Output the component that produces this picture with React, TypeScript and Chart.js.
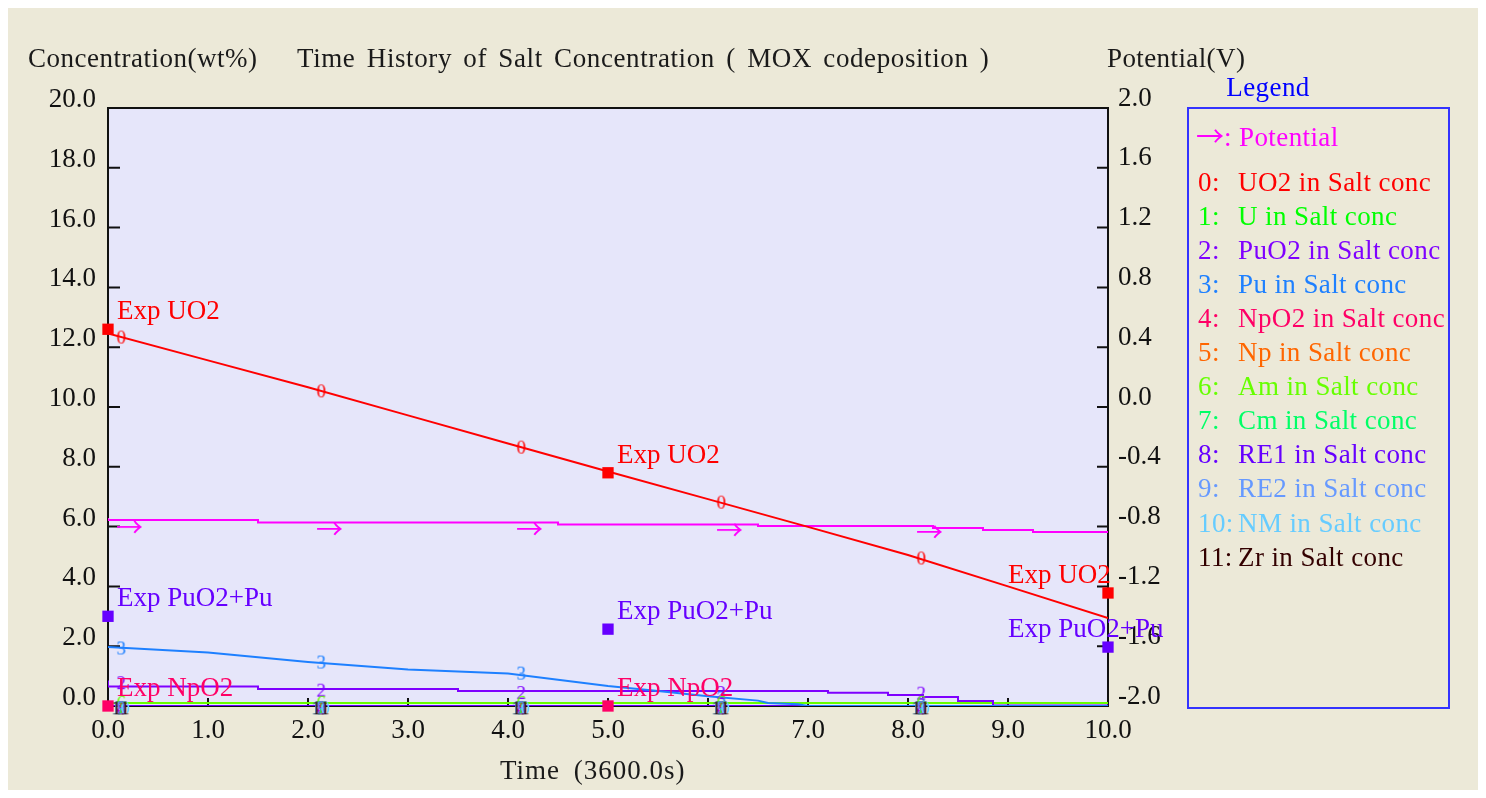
import React, { useEffect, useRef } from 'react';
import { Chart, registerables } from 'chart.js';

Chart.register(...registerables);

const FONT_FAMILY = '"Liberation Serif", "Times New Roman", serif';
const ARROW_FONT = '"Noto Sans CJK SC", "DejaVu Sans", sans-serif';
const TEXT_SIZE = 27;
const CANVAS_W = 1470;
const CANVAS_H = 782;
const PAGE_BG = '#ECE9D8';
const PLOT_BG = '#E6E6FA';
const AXIS_COLOR = '#111111';

// ---- axis ticks ----
const timeTicks = [0, 1, 2, 3, 4, 5, 6, 7, 8, 9, 10];
const timeTickLabels = ['0.0', '1.0', '2.0', '3.0', '4.0', '5.0', '6.0', '7.0', '8.0', '9.0', '10.0'];
const concTicks = [0, 2, 4, 6, 8, 10, 12, 14, 16, 18, 20];
const concTickLabels = ['0.0', '2.0', '4.0', '6.0', '8.0', '10.0', '12.0', '14.0', '16.0', '18.0', '20.0'];
const potTicks = [-2.0, -1.6, -1.2, -0.8, -0.4, 0.0, 0.4, 0.8, 1.2, 1.6, 2.0];
const potTickLabels = ['-2.0', '-1.6', '-1.2', '-0.8', '-0.4', '0.0', '0.4', '0.8', '1.2', '1.6', '2.0'];

// ---- texts ----
const chartTitle = 'Time History of Salt Concentration ( MOX codeposition )';
const leftAxisTitle = 'Concentration(wt%)';
const rightAxisTitle = 'Potential(V)';
const xAxisTitle = 'Time (3600.0s)';
const legendTitle = 'Legend';
const potentialArrow = '\u2192';
const potentialLegend = ': Potential';

// ---- legend series ----
const seriesNumbers = ['0:', '1:', '2:', '3:', '4:', '5:', '6:', '7:', '8:', '9:', '10:', '11:'];
const seriesNames = [
  'UO2 in Salt conc', 'U in Salt conc', 'PuO2 in Salt conc', 'Pu in Salt conc',
  'NpO2 in Salt conc', 'Np in Salt conc', 'Am in Salt conc', 'Cm in Salt conc',
  'RE1 in Salt conc', 'RE2 in Salt conc', 'NM in Salt conc', 'Zr in Salt conc',
];
const seriesColors = [
  '#FF0000', '#00FF00', '#7F00FF', '#1E80FF', '#FF0066', '#FF6600',
  '#66FF00', '#00FF66', '#6600FF', '#6699FF', '#66CCFF', '#330000',
];
const potentialColor = '#FF00FF';

// ---- simulated series ----
const uo2Time = [0, 1, 2, 3, 4, 5, 6, 7, 8, 9, 10];
const uo2Conc = [12.46, 11.56, 10.66, 9.72, 8.78, 7.84, 6.92, 5.99, 5.05, 4.0, 2.94];

const puTime = [0, 1, 2, 3, 4, 5, 5.5, 6, 6.5, 6.6, 6.9, 7, 8, 9, 10];
const puConc = [1.97, 1.79, 1.47, 1.22, 1.09, 0.67, 0.5, 0.33, 0.18, 0.1, 0.06, 0, 0, 0, 0];

const puo2Time = [0, 1.5, 3.5, 7.2, 7.8, 8.15, 8.5, 8.85, 9.25, 10];
const puo2Conc = [0.85, 0.65, 0.57, 0.5, 0.44, 0.37, 0.3, 0.17, 0.02, 0.02];

const amTime = [0, 10];
const amConc = [0.1, 0.1];

const zeroTime = [0, 10];
const zeroConc = [0, 0];

const potTime = [0, 1.5, 4.5, 6.5, 8.25, 8.75, 9.25, 9.75, 10];
const potVolt = [-0.742, -0.756, -0.773, -0.786, -0.796, -0.809, -0.823, -0.836, -0.836];

// ---- series marker glyphs ----
const markTime = [0.13, 2.13, 4.13, 6.13, 8.13];
const uo2Marks = [12.34, 10.54, 8.66, 6.82, 4.95];
const puMarks = [1.94, 1.47, 1.1, 0.27, 0.05];
const puo2Marks = [0.78, 0.53, 0.45, 0.45, 0.43];
const amMarks = [0.12, 0.12, 0.12, 0.12, 0.12];
const bottomMarks = [-0.06, -0.06, -0.06, -0.06, -0.06];
const potMarkTime = [0.22, 2.22, 4.22, 6.22, 8.22];
const potMarks = [-0.803, -0.816, -0.816, -0.823, -0.836];

// ---- experimental points ----
const expUO2Time = [0, 5, 10];
const expUO2 = [12.6, 7.8, 3.78];
const expPuTime = [0, 5, 10];
const expPu = [3.0, 2.57, 1.97];
const expNpTime = [0, 5];
const expNp = [0, 0];
const expLabels = ['Exp UO2', 'Exp PuO2+Pu', 'Exp NpO2'];
const expColors = ['#FF0000', '#6600FF', '#FF0066'];

const pts = (xs: number[], ys: number[]) => xs.map((x, i) => ({ x, y: ys[i] }));

function makeGlyph(text: string, color: string, size: number, family = FONT_FAMILY): HTMLCanvasElement {
  const c = document.createElement('canvas');
  const m0 = c.getContext('2d')!;
  m0.font = `${size}px ${family}`;
  const m = m0.measureText(text);
  const l = Math.ceil(m.actualBoundingBoxLeft);
  const r = Math.ceil(m.actualBoundingBoxRight);
  const a = Math.ceil(m.actualBoundingBoxAscent);
  const d = Math.ceil(m.actualBoundingBoxDescent);
  c.width = l + r + 2;
  c.height = a + d + 2;
  const g = c.getContext('2d')!;
  g.font = `${size}px ${family}`;
  g.fillStyle = color;
  g.textBaseline = 'alphabetic';
  g.fillText(text, l + 1, a + 1);
  return c;
}

function spaced(ctx: any, letter: number, word: number) {
  ctx.letterSpacing = `${letter}px`;
  ctx.wordSpacing = `${word}px`;
}

const decorPlugin = {
  id: 'decor',
  beforeDatasetsDraw(chart: any) {
    const { ctx, chartArea: a, scales } = chart;
    ctx.save();
    ctx.fillStyle = PLOT_BG;
    ctx.fillRect(a.left, a.top, a.right - a.left, a.bottom - a.top);
    ctx.strokeStyle = AXIS_COLOR;
    ctx.lineWidth = 2;
    ctx.strokeRect(a.left, a.top, a.right - a.left, a.bottom - a.top);
    ctx.beginPath();
    concTicks.forEach((v) => {
      const y = scales.y.getPixelForValue(v);
      ctx.moveTo(a.left, y);
      ctx.lineTo(a.left + 12, y);
    });
    potTicks.forEach((v) => {
      const y = scales.y2.getPixelForValue(v);
      ctx.moveTo(a.right - 11, y);
      ctx.lineTo(a.right, y);
    });
    timeTicks.forEach((v) => {
      const x = scales.x.getPixelForValue(v);
      ctx.moveTo(x, a.bottom);
      ctx.lineTo(x, a.bottom - 8);
    });
    ctx.stroke();
    ctx.restore();
  },
  afterDatasetsDraw(chart: any) {
    const { ctx, scales } = chart;
    ctx.save();
    ctx.font = `${TEXT_SIZE}px ${FONT_FAMILY}`;
    ctx.textBaseline = 'alphabetic';
    ctx.textAlign = 'left';
    // experimental labels
    const expSets = [
      [expUO2Time, expUO2],
      [expPuTime, expPu],
      [expNpTime, expNp],
    ];
    expSets.forEach(([ts, vs], k) => {
      ctx.fillStyle = expColors[k];
      ts.forEach((t, i) => {
        const px = scales.x.getPixelForValue(t);
        const py = scales.y.getPixelForValue(vs[i]);
        const atEnd = t >= scales.x.max;
        ctx.fillText(expLabels[k], atEnd ? px - 100 : px + 9, py - 10);
      });
    });
    // header texts
    ctx.fillStyle = '#1a1a1a';
    spaced(ctx, 0.5, 0);
    ctx.fillText(leftAxisTitle, 20, 59);
    spaced(ctx, 0.6, 4);
    ctx.fillText(chartTitle, 289, 59);
    spaced(ctx, 0.4, 0);
    ctx.fillText(rightAxisTitle, 1099, 59);
    spaced(ctx, 1, 6);
    ctx.fillText(xAxisTitle, 492, 771);
    // legend
    spaced(ctx, 0.4, 0);
    ctx.fillStyle = '#0000FF';
    ctx.textAlign = 'center';
    ctx.fillText(legendTitle, 1260, 88);
    ctx.textAlign = 'left';
    ctx.strokeStyle = '#3333FF';
    ctx.lineWidth = 2;
    ctx.strokeRect(1180, 100, 261, 600);
    ctx.fillStyle = potentialColor;
    ctx.font = `28px ${ARROW_FONT}`;
    ctx.fillText(potentialArrow, 1188, 139);
    ctx.font = `${TEXT_SIZE}px ${FONT_FAMILY}`;
    ctx.fillText(potentialLegend, 1216, 138);
    seriesNames.forEach((name, i) => {
      const y = 182.5 + 34.1 * i;
      ctx.fillStyle = seriesColors[i];
      ctx.fillText(seriesNumbers[i], 1190, y);
      ctx.fillText(name, 1230, y);
    });
    ctx.restore();
  },
};

export default function App() {
  const ref = useRef<HTMLCanvasElement>(null);

  useEffect(() => {
    const canvas = ref.current;
    if (!canvas) return;

    const lineDs = (label: string, xs: number[], ys: number[], color: string, extra: any = {}) => ({
      label,
      data: pts(xs, ys),
      borderColor: color,
      backgroundColor: color,
      borderWidth: 2,
      pointRadius: 0,
      fill: false,
      tension: 0,
      yAxisID: 'y',
      ...extra,
    });
    const markDs = (label: string, xs: number[], ys: number[], glyph: HTMLCanvasElement, yAxisID = 'y') => ({
      label,
      data: pts(xs, ys),
      showLine: false,
      pointStyle: glyph,
      pointRadius: 12,
      pointHoverRadius: 12,
      borderWidth: 0,
      clip: false,
      yAxisID,
    });
    const expDs = (label: string, xs: number[], ys: number[], color: string) => ({
      label,
      data: pts(xs, ys),
      showLine: false,
      pointStyle: 'rect',
      pointRadius: 8,
      pointHoverRadius: 8,
      pointBorderWidth: 0,
      pointBackgroundColor: color,
      backgroundColor: color,
      borderColor: color,
      clip: false,
      yAxisID: 'y',
    });

    const zeroSeries = [1, 4, 5, 7, 9, 10, 11, 8];
    const bottomGlyphSeries = [1, 4, 5, 7, 8, 9, 10, 11];

    // bottom-to-top drawing list
    const layers: any[] = [];
    zeroSeries.forEach((s) => layers.push(lineDs(seriesNames[s], zeroTime, zeroConc, seriesColors[s])));
    layers.push(lineDs(seriesNames[6], amTime, amConc, seriesColors[6]));
    layers.push(lineDs(seriesNames[2], puo2Time, puo2Conc, seriesColors[2], { stepped: 'after' }));
    layers.push(lineDs(seriesNames[3], puTime, puConc, seriesColors[3]));
    layers.push(lineDs('Potential', potTime, potVolt, potentialColor, { stepped: 'after', yAxisID: 'y2' }));
    layers.push(lineDs(seriesNames[0], uo2Time, uo2Conc, seriesColors[0]));
    layers.push(markDs('Potential marks', potMarkTime, potMarks, makeGlyph('\u2192', potentialColor, 27, ARROW_FONT), 'y2'));
    layers.push(markDs('0 marks', markTime, uo2Marks, makeGlyph('0', seriesColors[0], 19)));
    layers.push(markDs('3 marks', markTime, puMarks, makeGlyph('3', seriesColors[3], 19)));
    layers.push(markDs('2 marks', markTime, puo2Marks, makeGlyph('2', seriesColors[2], 19)));
    layers.push(markDs('6 marks', markTime, amMarks, makeGlyph('6', seriesColors[6], 19)));
    bottomGlyphSeries.forEach((s) =>
      layers.push(markDs(`${s} marks`, markTime, bottomMarks, makeGlyph(String(s), seriesColors[s], 19)))
    );
    layers.push(expDs(expLabels[0], expUO2Time, expUO2, expColors[0]));
    layers.push(expDs(expLabels[1], expPuTime, expPu, expColors[1]));
    layers.push(expDs(expLabels[2], expNpTime, expNp, expColors[2]));
    const n = layers.length;
    layers.forEach((d, i) => (d.order = n - i));

    const tickFont = { family: FONT_FAMILY, size: TEXT_SIZE };

    const chart = new Chart(canvas, {
      type: 'line',
      data: { datasets: layers },
      plugins: [decorPlugin],
      options: {
        animation: false,
        responsive: false,
        events: [],
        layout: { padding: { top: 100, left: 0, right: 0, bottom: 0 } },
        plugins: {
          legend: { display: false },
          tooltip: { enabled: false },
          title: { display: false },
        },
        scales: {
          x: {
            type: 'linear',
            position: 'bottom',
            min: 0,
            max: 10,
            grid: { display: false, drawTicks: false },
            border: { display: false },
            afterBuildTicks: (s: any) => {
              s.ticks = timeTicks.map((v) => ({ value: v }));
            },
            afterFit: (s: any) => {
              s.height = 84;
            },
            ticks: {
              autoSkip: false,
              maxRotation: 0,
              padding: 9,
              color: AXIS_COLOR,
              font: tickFont,
              callback: (_v: any, i: number) => timeTickLabels[i],
            },
          },
          y: {
            type: 'linear',
            position: 'left',
            min: 0,
            max: 20,
            grid: { display: false, drawTicks: false },
            border: { display: false },
            afterBuildTicks: (s: any) => {
              s.ticks = concTicks.map((v) => ({ value: v }));
            },
            afterFit: (s: any) => {
              s.width = 100;
            },
            ticks: {
              autoSkip: false,
              padding: 12,
              labelOffset: -8,
              color: AXIS_COLOR,
              font: tickFont,
              callback: (_v: any, i: number) => concTickLabels[i],
            },
          },
          y2: {
            type: 'linear',
            position: 'right',
            min: -2,
            max: 2,
            grid: { display: false, drawTicks: false },
            border: { display: false },
            afterBuildTicks: (s: any) => {
              s.ticks = potTicks.map((v) => ({ value: v }));
            },
            afterFit: (s: any) => {
              s.width = CANVAS_W - 1100;
            },
            ticks: {
              autoSkip: false,
              padding: 10,
              labelOffset: -9.5,
              color: AXIS_COLOR,
              font: tickFont,
              callback: (_v: any, i: number) => potTickLabels[i],
            },
          },
        },
      } as any,
    });

    return () => chart.destroy();
  }, []);

  return (
    <div style={{ width: CANVAS_W, height: CANVAS_H, background: PAGE_BG }}>
      <canvas ref={ref} width={CANVAS_W} height={CANVAS_H} style={{ display: 'block' }} />
    </div>
  );
}
